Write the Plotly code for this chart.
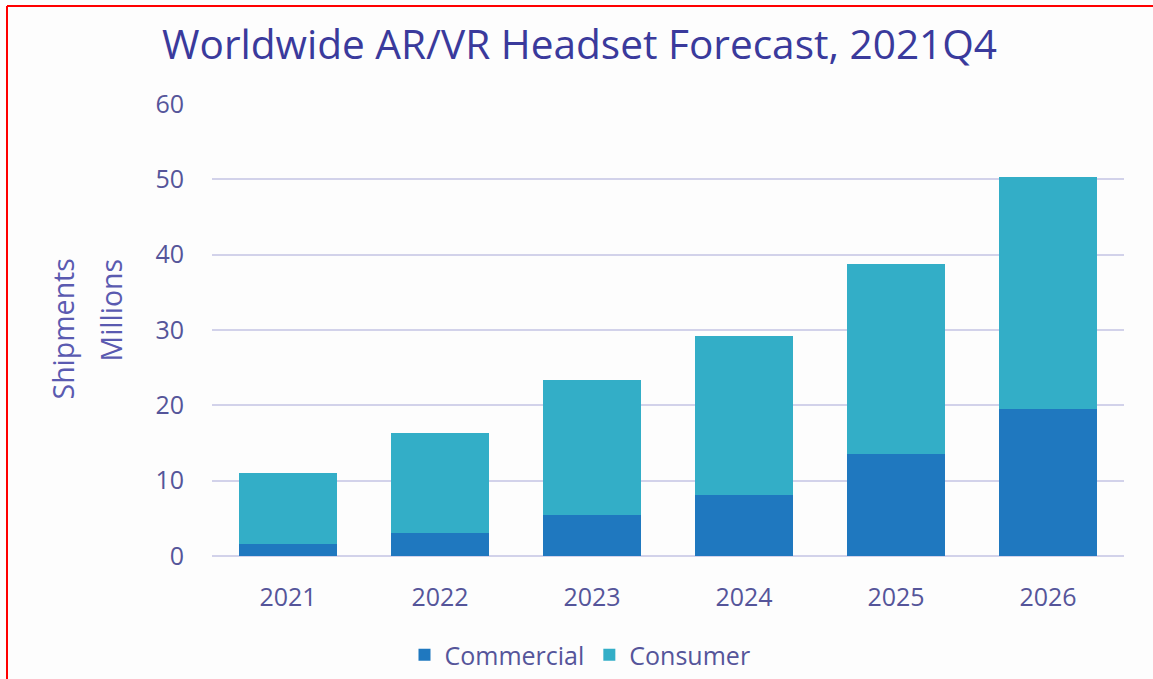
import plotly.graph_objects as go

years = ["2021", "2022", "2023", "2024", "2025", "2026"]
commercial = [1.6, 3.05, 5.4, 8.1, 13.5, 19.5]
consumer = [9.4, 13.25, 18.0, 21.1, 25.3, 30.8]
y_ticks = [0, 10, 20, 30, 40, 50, 60]

TEXT = "#55559a"
TITLE = "#3a3a9c"

fig = go.Figure()
fig.add_trace(go.Bar(name="Commercial", x=years, y=commercial, marker_color="#1f78bf",
                     marker_line_width=0))
fig.add_trace(go.Bar(name="Consumer", x=years, y=consumer, marker_color="#33aec7",
                     marker_line_width=0))

W0, H0 = 1153, 679
L, R, T, B = 212, 29, 104, 123
pw, ph = W0 - L - R, H0 - T - B

def px(x):
    return (x - L) / pw

def py(y):
    return (H0 - B - y) / ph

fig.update_layout(
    width=W0, height=H0,
    barmode="stack", bargap=0.355,
    margin=dict(l=L, r=R, t=T, b=B, autoexpand=False),
    paper_bgcolor="#fdfdfd", plot_bgcolor="#fdfdfd",
    font=dict(family="Open Sans", color=TEXT, size=25),
    title=dict(text="Worldwide AR/VR Headset Forecast, 2021Q4",
               font=dict(family="Open Sans", size=40.6, color=TITLE),
               x=162 / W0, xanchor="left", y=1 - 45 / H0, yanchor="middle"),
    showlegend=True,
    legend=dict(orientation="h", x=px(580), xanchor="center", y=py(655), yanchor="middle",
                font=dict(size=25, color=TEXT), bgcolor="rgba(0,0,0,0)",
                itemsizing="constant", traceorder="normal"),
    xaxis=dict(showgrid=False, showline=False, zeroline=False, automargin=False,
               ticks="outside", ticklen=19, tickcolor="rgba(0,0,0,0)",
               tickfont=dict(size=25, color=TEXT)),
    yaxis=dict(range=[0, 60], tickvals=y_ticks, showgrid=True, gridcolor="#d2d2ea",
               gridwidth=2, zeroline=True, zerolinecolor="#d2d2ea", zerolinewidth=2,
               showline=False, automargin=False, ticks="outside", ticklen=22,
               tickcolor="rgba(0,0,0,0)", tickfont=dict(size=25, color=TEXT)),
    annotations=[
        dict(text="Shipments", textangle=-90, xref="paper", yref="paper",
             x=px(62), y=py(257), xanchor="center", yanchor="top", showarrow=False,
             font=dict(size=28.5, color="#5a5ab0")),
        dict(text="Millions", textangle=-90, xref="paper", yref="paper",
             x=px(110), y=py(257), xanchor="center", yanchor="top", showarrow=False,
             font=dict(size=28.5, color="#5a5ab0")),
    ],
    shapes=[
        dict(type="line", xref="paper", yref="paper", x0=px(7), x1=px(1200),
             y0=py(6), y1=py(6), line=dict(color="#ff0000", width=2)),
        dict(type="line", xref="paper", yref="paper", x0=px(7), x1=px(7),
             y0=py(6), y1=py(720), line=dict(color="#ff0000", width=2)),
    ],
)

fig.write_html("out.html")
